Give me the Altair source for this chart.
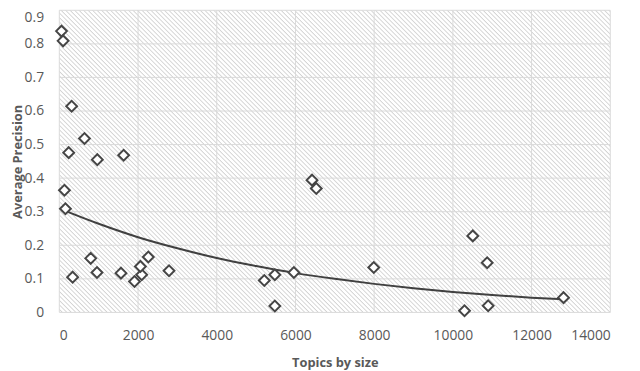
import altair as alt
import pandas as pd

# ---- data ----
topic_size = [55, 95, 313, 639, 238, 965, 1634, 130, 155, 338, 797, 957, 1566, 1910,
              2093, 2060, 2261, 2787, 6421, 6529, 5208, 5476, 5476, 5960, 7990,
              10506, 10872, 10296, 10897, 12812]
avg_precision = [0.838, 0.809, 0.614, 0.518, 0.476, 0.455, 0.468, 0.364, 0.309, 0.105,
                 0.161, 0.119, 0.117, 0.092, 0.112, 0.137, 0.165, 0.124, 0.394, 0.369,
                 0.095, 0.112, 0.019, 0.119, 0.134, 0.228, 0.148, 0.005, 0.020, 0.044]

# exponential trendline
trend_x = [55, 1000, 2000, 3000, 4000, 5000, 6000, 7000, 8000, 9000, 10000, 11000, 12000, 12812]
trend_y = [0.307, 0.264, 0.224, 0.191, 0.162, 0.138, 0.117, 0.100, 0.085, 0.072, 0.061, 0.052, 0.044, 0.039]

x_ticks = [0, 2000, 4000, 6000, 8000, 10000, 12000, 14000]
y_ticks = [0, 0.1, 0.2, 0.3, 0.4, 0.5, 0.6, 0.7, 0.8, 0.9]

pts = pd.DataFrame({"size": topic_size, "ap": avg_precision})
trend = pd.DataFrame({"size": trend_x, "ap": trend_y})
xt = pd.DataFrame({"size": x_ticks})
yt = pd.DataFrame({"ap": y_ticks})

W, H = 558, 306
FONT = "Open Sans"
GREY = "#595959"
GRID = "#d9d9d9"

# diagonal hatch as a striped linear gradient for the plot background
s = W * (W + H) / (W * W + H * H)
N = 190
stops = []
for i in range(N):
    stops.append({"offset": i / N, "color": "#ffffff"})
    stops.append({"offset": (i + 0.40) / N, "color": "#ffffff"})
    stops.append({"offset": (i + 0.70) / N, "color": "#d2d2d2"})
    stops.append({"offset": (i + 0.95) / N, "color": "#ffffff"})
stops.append({"offset": 1.0, "color": "#ffffff"})
hatch = alt.LinearGradient(gradient="linear", x1=0, y1=1, x2=s, y2=1 - s * H / W,
                           stops=[alt.GradientStop(**st) for st in stops])

xscale = alt.Scale(domain=[0, 14000], nice=False)
yscale = alt.Scale(domain=[0, 0.9], nice=False)

xaxis = alt.Axis(values=x_ticks, format="d", title="Topics by size", grid=False,
                 domain=False, ticks=False, tickSize=0, labelOverlap=False,
                 labelPadding=16, labelFont=FONT, labelFontSize=14, labelColor=GREY,
                 titleFont=FONT, titleFontSize=13, titleFontWeight="bold", titleColor=GREY,
                 titleY=51, titleBaseline="middle")
yaxis = alt.Axis(values=y_ticks, format=".1~f", title="Average Precision", grid=False,
                 domain=False, ticks=False, tickSize=0, labelOverlap=False,
                 labelBaseline={"condition": {"test": "datum.value >= 0.85", "value": "top"},
                                "value": "middle"},
                 labelPadding=16, labelFont=FONT, labelFontSize=14, labelColor=GREY,
                 titleFont=FONT, titleFontSize=13, titleFontWeight="bold", titleColor=GREY,
                 titleX=-42, titleBaseline="middle")

X = alt.X("size:Q", scale=xscale, axis=xaxis)
Y = alt.Y("ap:Q", scale=yscale, axis=yaxis)

bg = alt.Chart(pd.DataFrame({"k": [0]})).mark_rect(fill=hatch, strokeWidth=0).encode(
    x=alt.value(0), x2=alt.value(W), y=alt.value(0), y2=alt.value(H)
)
vgrid = alt.Chart(xt).mark_rule(color=GRID, strokeWidth=1).encode(x=X)
hgrid = alt.Chart(yt).mark_rule(color=GRID, strokeWidth=1).encode(y=Y)
line = alt.Chart(trend).mark_line(color="#404040", strokeWidth=2, interpolate="monotone").encode(
    x=X, y=Y
)
points = alt.Chart(pts).mark_point(shape="diamond", filled=False, fill="white", fillOpacity=1,
                                    stroke="#454545", strokeWidth=2, size=120, opacity=1).encode(
    x=X, y=Y
)

chart = alt.layer(bg, vgrid, hgrid, line, points).properties(
    width=W, height=H,
    autosize=alt.AutoSizeParams(type="none"),
    padding={"left": 52, "top": 0, "right": 22, "bottom": 56},
    background="white",
).configure_view(stroke=None)

chart.save("out.html", embed_options={"renderer": "svg", "actions": False})
